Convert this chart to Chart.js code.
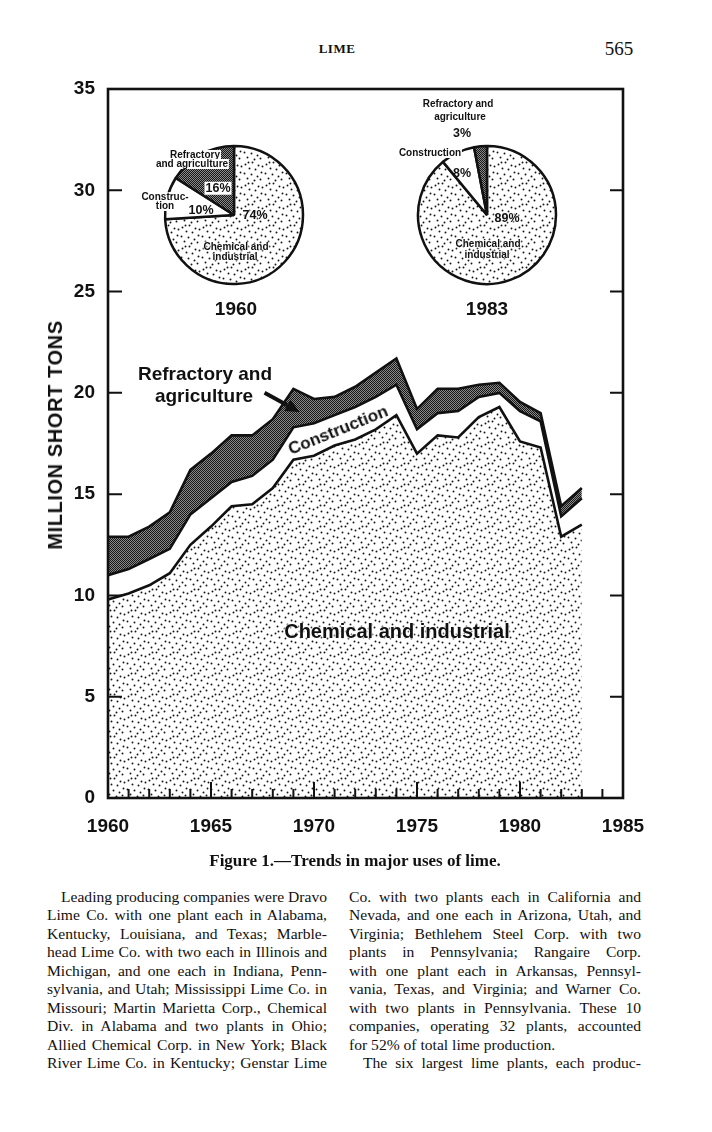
<!DOCTYPE html>
<html lang="en">
<head>
<meta charset="UTF-8">
<title>Lime - Trends in major uses</title>
<script src="https://cdn.jsdelivr.net/npm/chart.js"></script>
<style>
  body { margin: 0; background: #fff; }
  #page { position: relative; width: 712px; height: 1132px; overflow: hidden; background: #fff; color: #111; }
  #page canvas { position: absolute; }
  .t { position: absolute; white-space: nowrap; transform: translate(-50%, -50%); line-height: 1; }
  .sans { font-family: "Liberation Sans", Arial, sans-serif; font-weight: bold; }
  .serif { font-family: "Liberation Serif", "Times New Roman", serif; }
  .pie { font-size: 10px; }
  .pct { font-size: 12.5px; }
  .halo { text-shadow: 0 0 2px #fff, 0 0 2px #fff, 0 0 3px #fff; }
  .knock { background: #fff; padding: 0 1px; }
  .line { position: absolute; height: 18px; line-height: 18px; font-size: 15.6px; white-space: nowrap;
          text-align: justify; text-align-last: justify; }
  .last { text-align-last: left; }
</style>
</head>
<body>
<div id="page">
  <div class="t serif" style="left:337px; top:48px; font-size:13px; font-weight:bold; letter-spacing:0.5px;">LIME</div>
  <div class="t serif" style="left:619px; top:48px; font-size:19px;">565</div>

  <canvas id="main" width="712" height="880" style="left:0; top:0;"></canvas>
  <canvas id="pie1960" width="150" height="150" style="left:159px; top:140px;"></canvas>
  <canvas id="pie1983" width="150" height="150" style="left:412px; top:140px;"></canvas>

  <div class="t sans" style="left:55px; top:435px; font-size:20px; letter-spacing:0.6px; transform:translate(-50%,-50%) rotate(-90deg);">MILLION SHORT TONS</div>

  <!-- 1960 pie labels -->
  <div class="t sans pie knock" style="left:195px; top:155px;">Refractory</div>
  <div class="t sans pie knock" style="left:192px; top:164px;">and agriculture</div>
  <div class="t sans pct knock" style="left:218px; top:188px;">16%</div>
  <div class="t sans pie knock" style="left:165px; top:197px;">Construc-</div>
  <div class="t sans pie knock" style="left:165px; top:206px;">tion</div>
  <div class="t sans pct" style="left:201px; top:210px;">10%</div>
  <div class="t sans pct halo" style="left:255px; top:215px;">74%</div>
  <div class="t sans pie halo" style="left:236px; top:247px;">Chemical and</div>
  <div class="t sans pie halo" style="left:235px; top:257px;">industrial</div>
  <div class="t sans" style="left:236px; top:308px; font-size:19px;">1960</div>

  <!-- 1983 pie labels -->
  <div class="t sans pie" style="left:458px; top:104px;">Refractory and</div>
  <div class="t sans pie" style="left:460px; top:117px;">agriculture</div>
  <div class="t sans pct" style="left:462px; top:133px;">3%</div>
  <div class="t sans pie knock" style="left:430px; top:153px;">Construction</div>
  <div class="t sans pct" style="left:462px; top:173px;">8%</div>
  <div class="t sans pct halo" style="left:507px; top:218px;">89%</div>
  <div class="t sans pie halo" style="left:488px; top:244px;">Chemical and</div>
  <div class="t sans pie halo" style="left:487px; top:255px;">industrial</div>
  <div class="t sans" style="left:487px; top:308px; font-size:19px;">1983</div>

  <!-- area labels -->
  <div class="t sans" style="left:205px; top:373px; font-size:19px;">Refractory and</div>
  <div class="t sans" style="left:204px; top:395px; font-size:19px;">agriculture</div>
  <div class="t sans" style="left:338px; top:430px; font-size:17px; transform:translate(-50%,-50%) rotate(-22deg);">Construction</div>
  <div class="t sans halo" style="left:397px; top:631px; font-size:20px;">Chemical and industrial</div>

  <div class="t serif" style="left:355px; top:860px; font-size:17px; font-weight:bold;">Figure 1.—Trends in major uses of lime.</div>

  <div id="text"></div>
</div>

<script>
// values, million short tons
const years = [1960, 1961, 1962, 1963, 1964, 1965, 1966, 1967, 1968, 1969, 1970, 1971,
               1972, 1973, 1974, 1975, 1976, 1977, 1978, 1979, 1980, 1981, 1982, 1983];
const chemical     = [9.8, 10.1, 10.5, 11.1, 12.5, 13.4, 14.4, 14.5, 15.3, 16.7, 16.9, 17.4,
                      17.7, 18.2, 18.9, 17.0, 17.9, 17.8, 18.8, 19.3, 17.6, 17.3, 12.9, 13.5];
const construction = [1.2, 1.2, 1.3, 1.2, 1.5, 1.4, 1.2, 1.4, 1.4, 1.6, 1.6, 1.5,
                      1.6, 1.6, 1.5, 1.2, 1.1, 1.3, 1.0, 0.7, 1.5, 1.3, 1.0, 1.3];
const refractory   = [1.9, 1.6, 1.6, 1.8, 2.2, 2.2, 2.3, 2.0, 2.0, 1.9, 1.2, 0.9,
                      1.0, 1.2, 1.3, 1.0, 1.2, 1.1, 0.6, 0.5, 0.45, 0.4, 0.5, 0.5];
const yearTicks = [1960, 1965, 1970, 1975, 1980, 1985];

// pie shares, percent
const pieCategories = ['Chemical and industrial', 'Construction', 'Refractory and agriculture'];
const share1960 = [74, 10, 16];
const share1983 = [89, 8, 3];

// texture helpers
const DOTS = [[2,3],[9,1],[15,4],[6,7],[12,8],[18,11],[1,12],[8,13],[14,15],[4,17],[11,19],[17,18],[19,5],[5,1]];
function stipple(ctx) {
  const t = document.createElement('canvas');
  t.width = 21; t.height = 21;
  const c = t.getContext('2d');
  c.fillStyle = '#fff';
  c.fillRect(0, 0, 21, 21);
  c.fillStyle = '#151515';
  DOTS.forEach(([x, y]) => { c.beginPath(); c.arc(x + 0.5, y + 0.5, 0.95, 0, Math.PI * 2); c.fill(); });
  return ctx.createPattern(t, 'repeat');
}
function hatch(ctx) {
  const t = document.createElement('canvas');
  t.width = 2; t.height = 2;
  const c = t.getContext('2d');
  c.fillStyle = '#8a8a8a';
  c.fillRect(0, 0, 2, 2);
  c.fillStyle = '#161616';
  c.fillRect(0, 0, 1, 1);
  c.fillRect(1, 1, 1, 1);
  return ctx.createPattern(t, 'repeat');
}

const toPoints = arr => arr.map((v, i) => ({ x: years[i], y: v }));

// frame, inward ticks and the label arrow
const framePlugin = {
  id: 'frame',
  afterDraw(chart) {
    const { ctx, chartArea: a, scales: { x, y } } = chart;
    ctx.save();
    ctx.strokeStyle = '#111';
    ctx.fillStyle = '#111';
    ctx.lineWidth = 2.6;
    ctx.strokeRect(a.left, a.top, a.right - a.left, a.bottom - a.top);

    ctx.lineWidth = 2;
    ctx.beginPath();
    y.ticks.forEach(t => {
      const py = y.getPixelForValue(t.value);
      ctx.moveTo(a.left, py); ctx.lineTo(a.left + 14, py);
      ctx.moveTo(a.right - 13, py); ctx.lineTo(a.right, py);
    });
    for (let yr = yearTicks[0] + 1; yr < yearTicks[yearTicks.length - 1]; yr++) {
      const px = x.getPixelForValue(yr);
      const len = yr % 5 === 0 ? 16 : 9;
      ctx.moveTo(px, a.bottom); ctx.lineTo(px, a.bottom - len);
    }
    ctx.stroke();

    // arrow from "agriculture" into the band
    const x0 = x.getPixelForValue(1967.6), y0 = y.getPixelForValue(20.0);
    const x1 = x.getPixelForValue(1969.3), y1 = y.getPixelForValue(19.05);
    const ang = Math.atan2(y1 - y0, x1 - x0);
    const hl = 14, hw = 6.5;
    const bx = x1 - hl * Math.cos(ang), by = y1 - hl * Math.sin(ang);
    ctx.lineWidth = 4;
    ctx.beginPath(); ctx.moveTo(x0, y0); ctx.lineTo(bx, by); ctx.stroke();
    ctx.beginPath();
    ctx.moveTo(x1, y1);
    ctx.lineTo(bx - hw * Math.sin(ang), by + hw * Math.cos(ang));
    ctx.lineTo(bx + hw * Math.sin(ang), by - hw * Math.cos(ang));
    ctx.closePath();
    ctx.fill();
    ctx.restore();
  }
};

const mainCtx = document.getElementById('main').getContext('2d');
const dots = stipple(mainCtx);
const grey = hatch(mainCtx);
const tickFont = { family: '"Liberation Sans", Arial, sans-serif', weight: 'bold', size: 19 };

new Chart(mainCtx, {
  type: 'line',
  data: {
    datasets: [
      { label: 'Chemical and industrial', data: toPoints(chemical), fill: 'origin',
        backgroundColor: dots, borderColor: '#111', borderWidth: 2.6 },
      { label: 'Construction', data: toPoints(construction), fill: '-1',
        backgroundColor: '#fff', borderColor: '#111', borderWidth: 2.6 },
      { label: 'Refractory and agriculture', data: toPoints(refractory), fill: '-1',
        backgroundColor: grey, borderColor: '#111', borderWidth: 2.6 }
    ]
  },
  options: {
    responsive: false,
    animation: false,
    elements: { point: { radius: 0 }, line: { tension: 0, borderJoinStyle: 'miter' } },
    layout: { padding: { top: 89, right: 89, left: 0, bottom: 0 } },
    plugins: { legend: { display: false }, tooltip: { enabled: false } },
    scales: {
      x: {
        type: 'linear', min: 1960, max: 1985,
        afterBuildTicks: s => { s.ticks = yearTicks.map(v => ({ value: v })); },
        afterFit: s => { s.height = 82; },
        grid: { display: false, drawTicks: false },
        border: { display: false },
        ticks: { padding: 17, color: '#111', font: tickFont, maxRotation: 0, callback: v => String(v) }
      },
      y: {
        stacked: true, min: 0, max: 35,
        afterFit: s => { s.width = 108; },
        grid: { display: false, drawTicks: false },
        border: { display: false },
        ticks: { stepSize: 5, padding: 13, color: '#111', font: tickFont }
      }
    }
  },
  plugins: [framePlugin]
});

function makePie(id, shares) {
  const ctx = document.getElementById(id).getContext('2d');
  new Chart(ctx, {
    type: 'pie',
    data: {
      labels: pieCategories,
      datasets: [{
        data: shares,
        backgroundColor: [stipple(ctx), '#fff', hatch(ctx)],
        borderColor: '#111',
        borderWidth: 2.5
      }]
    },
    options: {
      responsive: false,
      animation: false,
      radius: 69,
      plugins: { legend: { display: false }, tooltip: { enabled: false } }
    }
  });
}
makePie('pie1960', share1960);
makePie('pie1983', share1983);

// body text, set line by line as in the page
const leftLines = [
  ['Leading producing companies were Dravo', 1, 0],
  ['Lime Co. with one plant each in Alabama,', 0, 0],
  ['Kentucky, Louisiana, and Texas; Marble-', 0, 0],
  ['head Lime Co. with two each in Illinois and', 0, 0],
  ['Michigan, and one each in Indiana, Penn-', 0, 0],
  ['sylvania, and Utah; Mississippi Lime Co. in', 0, 0],
  ['Missouri; Martin Marietta Corp., Chemical', 0, 0],
  ['Div. in Alabama and two plants in Ohio;', 0, 0],
  ['Allied Chemical Corp. in New York; Black', 0, 0],
  ['River Lime Co. in Kentucky; Genstar Lime', 0, 0]
];
const rightLines = [
  ['Co. with two plants each in California and', 0, 0],
  ['Nevada, and one each in Arizona, Utah, and', 0, 0],
  ['Virginia; Bethlehem Steel Corp. with two', 0, 0],
  ['plants in Pennsylvania; Rangaire Corp.', 0, 0],
  ['with one plant each in Arkansas, Pennsyl-', 0, 0],
  ['vania, Texas, and Virginia; and Warner Co.', 0, 0],
  ['with two plants in Pennsylvania. These 10', 0, 0],
  ['companies, operating 32 plants, accounted', 0, 0],
  ['for 52% of total lime production.', 0, 1],
  ['The six largest lime plants, each produc-', 1, 0]
];
const box = document.getElementById('text');
function setColumn(lines, left, width) {
  lines.forEach(([txt, indent, last], i) => {
    const d = document.createElement('div');
    d.className = 'line serif' + (last ? ' last' : '');
    d.textContent = txt;
    d.style.left = (left + (indent ? 14 : 0)) + 'px';
    d.style.width = (width - (indent ? 14 : 0)) + 'px';
    d.style.top = (888 + i * 18.45) + 'px';
    box.appendChild(d);
  });
}
setColumn(leftLines, 47, 280);
setColumn(rightLines, 349, 292);
</script>
</body>
</html>
